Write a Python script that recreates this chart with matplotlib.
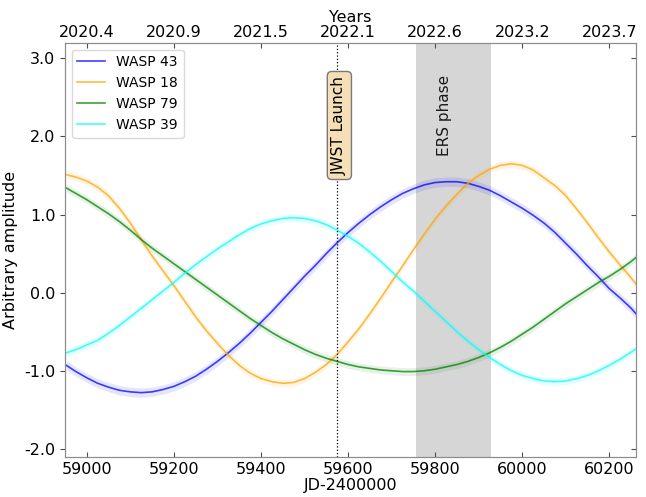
#!/usr/bin/env python

# Phase curves of four WASP planets through the JWST ERS window.

import matplotlib
matplotlib.use('Agg')
import matplotlib.pyplot as plt
import numpy

# Sample dates (JD-2400000)
jd = [58953, 58975, 59000, 59025, 59050, 59075, 59100, 59125, 59150, 59175,
      59200, 59225, 59250, 59275, 59300, 59325, 59350, 59375, 59400, 59425,
      59450, 59475, 59500, 59525, 59550, 59575, 59600, 59625, 59650, 59675,
      59700, 59725, 59750, 59775, 59800, 59825, 59850, 59875, 59900, 59925,
      59950, 59975, 60000, 60025, 60050, 60075, 60100, 60125, 60150, 60175,
      60200, 60225, 60250, 60261]

# Model amplitudes
wasp43 = [-0.93, -1.01, -1.09, -1.16, -1.21, -1.25, -1.27, -1.28, -1.27, -1.24,
          -1.20, -1.14, -1.07, -0.98, -0.88, -0.77, -0.65, -0.52, -0.38, -0.24,
          -0.09, 0.06, 0.21, 0.35, 0.50, 0.64, 0.77, 0.89, 1.00, 1.10,
          1.19, 1.27, 1.33, 1.38, 1.41, 1.42, 1.42, 1.40, 1.36, 1.31,
          1.24, 1.16, 1.08, 0.99, 0.89, 0.77, 0.63, 0.49, 0.34, 0.20,
          0.05, -0.07, -0.20, -0.27]
wasp18 = [1.51, 1.48, 1.43, 1.35, 1.24, 1.08, 0.89, 0.68, 0.47, 0.28,
          0.09, -0.11, -0.31, -0.49, -0.65, -0.80, -0.93, -1.03, -1.10, -1.14,
          -1.16, -1.15, -1.10, -1.02, -0.92, -0.79, -0.63, -0.46, -0.27, -0.07,
          0.14, 0.34, 0.55, 0.75, 0.94, 1.11, 1.26, 1.40, 1.50, 1.58,
          1.63, 1.65, 1.63, 1.57, 1.47, 1.37, 1.24, 1.07, 0.89, 0.70,
          0.52, 0.35, 0.19, 0.11]
wasp79 = [1.34, 1.27, 1.19, 1.10, 1.01, 0.91, 0.80, 0.68, 0.57, 0.47,
          0.37, 0.27, 0.17, 0.07, -0.03, -0.13, -0.23, -0.33, -0.42, -0.51,
          -0.59, -0.66, -0.73, -0.79, -0.84, -0.88, -0.92, -0.95, -0.97, -0.99,
          -1.00, -1.01, -1.01, -1.00, -0.98, -0.95, -0.92, -0.88, -0.83, -0.77,
          -0.70, -0.62, -0.53, -0.44, -0.34, -0.24, -0.14, -0.05, 0.04, 0.13,
          0.21, 0.30, 0.40, 0.45]
wasp39 = [-0.77, -0.73, -0.67, -0.61, -0.52, -0.42, -0.31, -0.20, -0.09, 0.02,
          0.13, 0.25, 0.36, 0.46, 0.56, 0.65, 0.74, 0.82, 0.88, 0.92,
          0.95, 0.96, 0.95, 0.92, 0.87, 0.80, 0.72, 0.63, 0.52, 0.40,
          0.27, 0.14, 0.02, -0.11, -0.24, -0.37, -0.50, -0.62, -0.73, -0.83,
          -0.92, -1.00, -1.06, -1.10, -1.13, -1.14, -1.13, -1.10, -1.06, -1.00,
          -0.93, -0.85, -0.76, -0.72]

# Uncertainty half-widths of the shaded bands
sig43 = 0.06
sig18 = 0.05
sig79 = 0.05
sig39 = 0.05

names = ['WASP 43', 'WASP 18', 'WASP 79', 'WASP 39']

# Events
jwst_launch = 59574
ers_start = 59757
ers_end = 59927

# Axis ticks
xticks = [59000, 59200, 59400, 59600, 59800, 60000, 60200]
year_labels = ['2020.4', '2020.9', '2021.5', '2022.1', '2022.6', '2023.2', '2023.7']
yticks = [3.0, 2.0, 1.0, 0.0, -1.0, -2.0]
ytick_labels = ['3.0', '2.0', '1.0', '0.0', '-1.0', '-2.0']

fig = plt.figure(figsize=(6.46, 4.97), dpi=100)
ax = fig.add_axes([0.1006, 0.0811, 0.8839, 0.8330])

x = numpy.array(jd)
series = [wasp43, wasp18, wasp79, wasp39]
sigs = [sig43, sig18, sig79, sig39]
colours = ['blue', 'orange', 'green', 'cyan']
for y, s, c, n in zip(series, sigs, colours, names):
    y = numpy.array(y)
    ax.fill_between(x, y - s, y + s, color=c, alpha=0.1, lw=0, zorder=2)
    ax.plot(x, y, color=c, lw=1.2, alpha=0.75, label=n, zorder=3)

# ERS window and launch marker
ax.axvspan(ers_start, ers_end, color='0.84', lw=0, zorder=1)
ax.text((ers_start + ers_end) / 2 - 20, 2.27, 'ERS phase', rotation=90,
        ha='center', va='center', fontsize=11, color='0.1', zorder=5)
ax.axvline(jwst_launch, color='k', ls=':', lw=0.9, zorder=4)
ax.text(jwst_launch + 6, 2.14, 'JWST Launch', rotation=90, ha='center',
        va='center', fontsize=11, zorder=6,
        bbox=dict(boxstyle='round,pad=0.3', facecolor='wheat',
                  edgecolor='0.45', alpha=0.95))

ax.set_xlim(58950, 60261)
ax.set_ylim(-2.1, 3.2)
ax.set_xticks(xticks)
ax.set_xticklabels([str(t) for t in xticks])
ax.set_yticks(yticks)
ax.set_yticklabels(ytick_labels)
ax.tick_params(axis='x', direction='in', labelsize=11.5, color='0.3')
ax.tick_params(axis='y', direction='out', labelsize=11.5, color='0.3')
ax.tick_params(axis='y', which='both', right=True)
ax.set_xlabel('JD-2400000', fontsize=11.5, labelpad=1)
ax.set_ylabel('Arbitrary amplitude', fontsize=11.5)

# Right side ticks point inwards
for t in ax.yaxis.get_major_ticks():
    t.tick2line.set_marker(matplotlib.lines.TICKLEFT)

for sp in ax.spines.values():
    sp.set_color('0.55')

leg = ax.legend(loc='upper left', fontsize=10, framealpha=1,
                edgecolor='0.85', handlelength=2.0)

# Years along the top
top = ax.twiny()
top.set_xlim(ax.get_xlim())
top.set_xticks(xticks)
top.set_xticklabels(year_labels)
top.tick_params(axis='x', direction='in', labelsize=11.5, color='0.3', pad=2)
top.set_xlabel('Years', fontsize=11.5, labelpad=2)
for sp in top.spines.values():
    sp.set_color('0.55')

fig.savefig('out.png', dpi=100)
